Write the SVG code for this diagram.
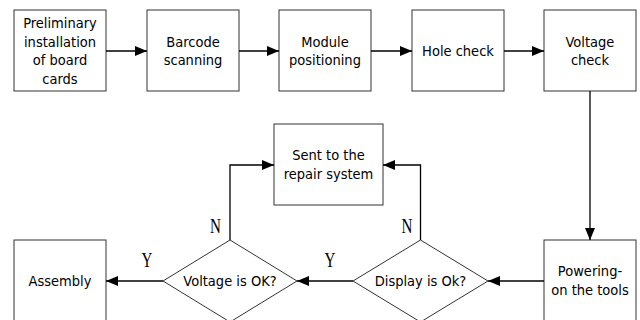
<svg xmlns="http://www.w3.org/2000/svg" width="640" height="320" viewBox="0 0 640 320">
<style>
.box{fill:#fff;stroke:#333;stroke-width:1}
.t{font-family:"DejaVu Sans Condensed","DejaVu Sans",Verdana,sans-serif;font-stretch:condensed;font-size:14.5px;fill:#000;text-anchor:middle}
.c{fill:none;stroke:#000;stroke-width:1.3}
.lbl{font-family:"Liberation Serif","Times New Roman",serif;font-size:21px;fill:#000;text-anchor:middle}
</style>
<defs>
<marker id="ah" markerUnits="userSpaceOnUse" markerWidth="12" markerHeight="10" refX="12" refY="5" orient="auto">
<path d="M0,0 L12,5 L0,10 z" fill="#000"/>
</marker>
</defs>
<rect width="640" height="320" fill="#fff"/>
<g id="n1"><rect class="box" x="14" y="10" width="92" height="81"/>
<text class="t" x="60" y="27.8">Preliminary</text><text class="t" x="60" y="46.5">installation</text><text class="t" x="60" y="65.2">of board</text><text class="t" x="60" y="83.8">cards</text></g>
<g id="n2"><rect class="box" x="147" y="10" width="92" height="81"/>
<text class="t" x="193" y="46.6">Barcode</text><text class="t" x="193" y="65.3">scanning</text></g>
<g id="n3"><rect class="box" x="279" y="10" width="92" height="81"/>
<text class="t" x="325" y="46.6">Module</text><text class="t" x="325" y="65.3">positioning</text></g>
<g id="n4"><rect class="box" x="412" y="10" width="92" height="81"/>
<text class="t" x="458" y="56.2">Hole check</text></g>
<g id="n5"><rect class="box" x="544" y="10" width="92" height="81"/>
<text class="t" x="590" y="46.6">Voltage</text><text class="t" x="590" y="65.3">check</text></g>
<g id="n6"><rect class="box" x="274" y="124" width="109" height="81"/>
<text class="t" x="328.5" y="160.3">Sent to the</text><text class="t" x="328.5" y="179">repair system</text></g>
<g id="n7"><rect class="box" x="544" y="240" width="92" height="81"/>
<text class="t" x="590" y="276.2">Powering-</text><text class="t" x="590" y="294.9">on the tools</text></g>
<g id="n8"><polygon class="box" points="420.5,240 488,281 420.5,322 353,281"/>
<text class="t" x="420.5" y="286.2">Display is Ok?</text></g>
<g id="n9"><polygon class="box" points="230,240 297,281 230,322 163,281"/>
<text class="t" x="230" y="286.2">Voltage is OK?</text></g>
<g id="n10"><rect class="box" x="14" y="240" width="92" height="81"/>
<text class="t" x="60" y="286.2">Assembly</text></g>
<g id="connectors">
<line class="c" x1="106" y1="51" x2="147" y2="51" marker-end="url(#ah)"/>
<line class="c" x1="239" y1="51" x2="279" y2="51" marker-end="url(#ah)"/>
<line class="c" x1="371" y1="51" x2="412" y2="51" marker-end="url(#ah)"/>
<line class="c" x1="504" y1="51" x2="544" y2="51" marker-end="url(#ah)"/>
<line class="c" x1="590" y1="91" x2="590" y2="240" marker-end="url(#ah)"/>
<line class="c" x1="544" y1="281" x2="488" y2="281" marker-end="url(#ah)"/>
<line class="c" x1="353" y1="281" x2="297" y2="281" marker-end="url(#ah)"/>
<line class="c" x1="163" y1="281" x2="106" y2="281" marker-end="url(#ah)"/>
<path class="c" d="M230,240 V165 H274" marker-end="url(#ah)"/>
<path class="c" d="M420.5,240 V165 H383" marker-end="url(#ah)"/>
<g transform="translate(215.5,233) scale(0.72,1)"><text class="lbl" x="0" y="0">N</text></g>
<g transform="translate(147,267) scale(0.72,1)"><text class="lbl" x="0" y="0">Y</text></g>
<g transform="translate(407,233) scale(0.72,1)"><text class="lbl" x="0" y="0">N</text></g>
<g transform="translate(330,267) scale(0.72,1)"><text class="lbl" x="0" y="0">Y</text></g>
</g>
</svg>
